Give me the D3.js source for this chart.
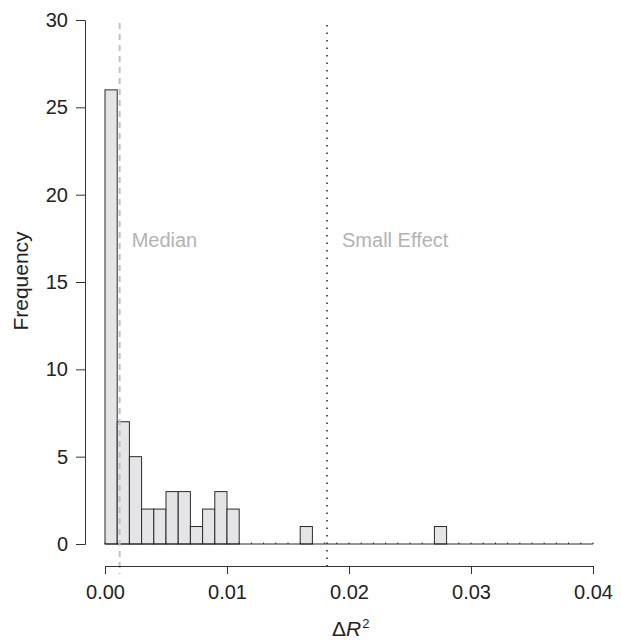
<!DOCTYPE html>
<html>
<head>
<meta charset="utf-8">
<script src="https://cdn.jsdelivr.net/npm/d3@7"></script>
<style>
	body { margin: 0; background: #fff; }
	svg text { font-family: 'Liberation Sans', Arial, Helvetica, sans-serif; }
</style>
</head>
<body>
<svg id="chart" width="621" height="641"></svg>
<script>
'use strict';

// Histogram of delta R^2, bins of width 0.001 from 0 to 0.04
var bin_width = 0.001;
var bin_counts = [26, 7, 5, 2, 2, 3, 3, 1, 2, 3, 2, 0, 0, 0, 0, 0, 1, 0, 0, 0,
	0, 0, 0, 0, 0, 0, 0, 1, 0, 0, 0, 0, 0, 0, 0, 0, 0, 0, 0, 0];
var x_ticks = [0, 0.01, 0.02, 0.03, 0.04];
var y_ticks = [0, 5, 10, 15, 20, 25, 30];
var median_value = 0.0012;
var small_effect_value = 0.0182;

var svg = d3.select('#chart');

var x_scale = d3.scaleLinear().domain([0, 0.04]).range([105, 593]);
var y_scale = d3.scaleLinear().domain([0, 30]).range([544, 20]);

var bins = bin_counts.map(function(c, i) {
	return { x0: i * bin_width, x1: (i + 1) * bin_width, count: c };
});

// Bars
svg.selectAll('rect.hbar')
	.data(bins.filter(function(d) { return d.count > 0; }))
	.enter().append('rect')
	.attr('class', 'hbar')
	.attr('x', function(d) { return x_scale(d.x0); })
	.attr('y', function(d) { return y_scale(d.count); })
	.attr('width', function(d) { return x_scale(d.x1) - x_scale(d.x0); })
	.attr('height', function(d) { return y_scale(0) - y_scale(d.count); })
	.attr('fill', '#e5e5e7')
	.attr('stroke', '#2a2a2a')
	.attr('stroke-width', 1);

// Baseline under the empty bins, with small marks at each bin edge
svg.append('line')
	.attr('x1', x_scale(0)).attr('x2', x_scale(0.04))
	.attr('y1', y_scale(0)).attr('y2', y_scale(0))
	.attr('stroke', '#2a2a2a').attr('stroke-width', 1);

svg.selectAll('line.binedge')
	.data(d3.range(bin_counts.length + 1))
	.enter().append('line')
	.attr('class', 'binedge')
	.attr('x1', function(i) { return x_scale(i * bin_width); })
	.attr('x2', function(i) { return x_scale(i * bin_width); })
	.attr('y1', y_scale(0) - 1.5).attr('y2', y_scale(0))
	.attr('stroke', '#2a2a2a').attr('stroke-width', 1);

// Reference lines
svg.append('line')
	.attr('x1', x_scale(median_value)).attr('x2', x_scale(median_value))
	.attr('y1', 23).attr('y2', 574)
	.attr('stroke', '#c0c0c0').attr('stroke-width', 2)
	.attr('stroke-dasharray', '6,5');

svg.append('line')
	.attr('x1', x_scale(small_effect_value)).attr('x2', x_scale(small_effect_value))
	.attr('y1', 25).attr('y2', 572)
	.attr('stroke', '#222').attr('stroke-width', 1.5)
	.attr('stroke-dasharray', '1.5,6');

svg.append('text')
	.attr('x', x_scale(median_value) + 12).attr('y', 247)
	.attr('fill', '#b3b3b3').attr('font-size', 20)
	.text('Median');

svg.append('text')
	.attr('x', x_scale(small_effect_value) + 15).attr('y', 247)
	.attr('fill', '#b3b3b3').attr('font-size', 20)
	.text('Small Effect');

// Axes
var y_axis = svg.append('g')
	.attr('transform', 'translate(85,0)')
	.call(d3.axisLeft(y_scale).tickValues(y_ticks).tickSize(9).tickPadding(8).tickFormat(d3.format('d')));

var x_axis = svg.append('g')
	.attr('transform', 'translate(0,566)')
	.call(d3.axisBottom(x_scale).tickValues(x_ticks).tickSize(8).tickPadding(11).tickFormat(d3.format('.2f')));

[y_axis, x_axis].forEach(function(ax) {
	ax.select('.domain').attr('stroke', '#333');
	ax.selectAll('.tick line').attr('stroke', '#333');
	ax.selectAll('.tick text').attr('font-size', 20).attr('fill', '#222')
		.attr('font-family', null);
});

// Axis titles
svg.append('text')
	.attr('transform', 'translate(28,281) rotate(-90)')
	.attr('text-anchor', 'middle')
	.attr('font-size', 21).attr('fill', '#222')
	.text('Frequency');

var x_title = svg.append('text')
	.attr('x', 332).attr('y', 636)
	.attr('font-size', 21).attr('fill', '#222');
x_title.append('tspan').text('\u0394');
x_title.append('tspan').attr('font-style', 'italic').text('R');
x_title.append('tspan').attr('font-size', 13).attr('dy', -8).attr('dx', 1).text('2');
</script>
</body>
</html>
